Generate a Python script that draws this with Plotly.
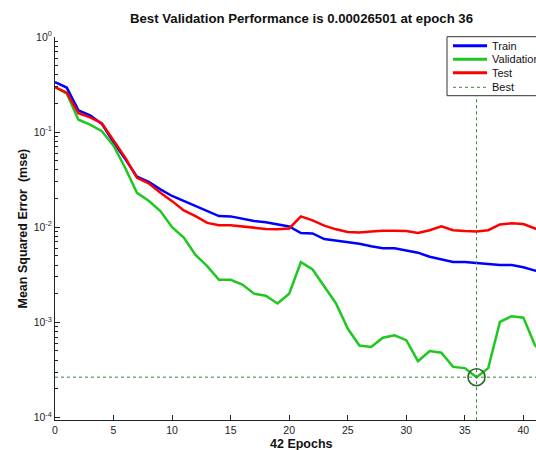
import plotly.graph_objects as go

# ---------------- data ----------------
epochs = list(range(0, 43))
train = [0.336, 0.294, 0.169, 0.150, 0.122, 0.078, 0.052, 0.034, 0.030, 0.025,
         0.0213, 0.0188, 0.0167, 0.0148, 0.0131, 0.0130, 0.0122, 0.0116, 0.0113, 0.0108,
         0.0102, 0.0087, 0.0086, 0.0075, 0.0072, 0.0069, 0.0067, 0.0063, 0.0060, 0.0060,
         0.0057, 0.0054, 0.0049, 0.0046, 0.0043, 0.0043, 0.0042, 0.0041, 0.0040, 0.0040,
         0.0038, 0.0035, 0.0033]
validation = [0.298, 0.254, 0.135, 0.120, 0.102, 0.072, 0.042, 0.023, 0.019, 0.0148,
              0.0100, 0.0078, 0.0051, 0.0039, 0.0028, 0.0028, 0.0025, 0.0020, 0.0019, 0.00158,
              0.0020, 0.0043, 0.0036, 0.0024, 0.00158, 0.00086, 0.00057, 0.00055, 0.00069, 0.00073,
              0.00065, 0.00039, 0.00050, 0.00048, 0.00034, 0.00033, 0.00026501, 0.00033, 0.00101, 0.00116,
              0.00112, 0.00057, 0.00045]
test = [0.298, 0.260, 0.158, 0.143, 0.124, 0.081, 0.054, 0.033, 0.029, 0.023,
        0.0188, 0.0150, 0.0131, 0.0111, 0.0105, 0.0105, 0.0102, 0.0098, 0.0096, 0.0095,
        0.0097, 0.0130, 0.0118, 0.0104, 0.0095, 0.0089, 0.0088, 0.0090, 0.0092, 0.0092,
        0.0091, 0.0087, 0.0093, 0.0102, 0.0093, 0.0091, 0.0090, 0.0093, 0.0107, 0.0110,
        0.0108, 0.0097, 0.0092]
best_epoch = 36
best_perf = 0.00026501
x_ticks = [0, 5, 10, 15, 20, 25, 30, 35, 40]
y_ticks = [1e-4, 1e-3, 1e-2, 1e-1, 1]
y_tick_text = ["10<sup>-4</sup>", "10<sup>-3</sup>", "10<sup>-2</sup>", "10<sup>-1</sup>", "10<sup>0</sup>"]
y_minor = [m * 10.0 ** d for d in range(-4, 0) for m in range(2, 10)]
legend_names = ["Train", "Validation", "Test", "Best"]

# ---------------- style ----------------
FONT = "Arial, 'Liberation Sans', sans-serif"
C_TRAIN = "#0000ff"
C_VAL = "#1ec81e"
C_TEST = "#ff0000"
C_BEST = "#3f7f3f"
C_CIRCLE = "#2a6a2a"

# the page body margin is removed by the post script, so screen px == figure px
SCR_L, SCR_T, SCR_B = 55, 37, 420        # plot area edges on screen
W, H = 536, 450
L, T, R = SCR_L, SCR_T, 0
B = H - SCR_B
PW, PH = W - L - R, H - T - B


def px(x):
    return (x - SCR_L) / PW


def py(y):
    return (SCR_B - y) / PH


fig = go.Figure()
fig.add_trace(go.Scatter(x=epochs, y=train, mode="lines",
                         line=dict(color=C_TRAIN, width=2.5), showlegend=False))
fig.add_trace(go.Scatter(x=epochs, y=validation, mode="lines",
                         line=dict(color=C_VAL, width=2.5), showlegend=False))
fig.add_trace(go.Scatter(x=epochs, y=test, mode="lines",
                         line=dict(color=C_TEST, width=2.5), showlegend=False))
# best markers
fig.add_trace(go.Scatter(x=[best_epoch, best_epoch], y=[10 ** -4.03, 1.0], mode="lines",
                         line=dict(color=C_BEST, width=1, dash="dot"), showlegend=False))
fig.add_trace(go.Scatter(x=[0, epochs[-1]], y=[best_perf, best_perf], mode="lines",
                         line=dict(color=C_BEST, width=1, dash="dot"), showlegend=False))
fig.add_trace(go.Scatter(x=[best_epoch], y=[best_perf], mode="markers",
                         marker=dict(symbol="circle-open", size=17,
                                     line=dict(color=C_CIRCLE, width=1.6), color=C_CIRCLE),
                         showlegend=False, cliponaxis=False))

# ---------------- legend (drawn manually; it is cut by the right edge) ----------------
shapes = [dict(type="rect", xref="paper", yref="paper",
               x0=px(447), x1=px(600), y0=py(95.7), y1=py(36.7),
               line=dict(color="#333333", width=1), fillcolor="white", layer="above")]
entry_y = [45.7, 59.3, 72.7, 87.3]
entry_style = [(C_TRAIN, 3, "solid"), (C_VAL, 3, "solid"), (C_TEST, 3, "solid"), (C_BEST, 1, "dot")]
annotations = []
for name, yy, (c, w, d) in zip(legend_names, entry_y, entry_style):
    shapes.append(dict(type="line", xref="paper", yref="paper",
                       x0=px(453), x1=px(487), y0=py(yy), y1=py(yy),
                       line=dict(color=c, width=w, dash=d), layer="above"))
    annotations.append(dict(text=name, xref="paper", yref="paper", x=px(490), y=py(yy),
                            xanchor="left", yanchor="middle", showarrow=False,
                            font=dict(family=FONT, size=11, color="#111111")))

# titles
annotations.append(dict(text="<b>Best Validation Performance is 0.00026501 at epoch 36</b>",
                        xref="paper", yref="paper", x=px(301), y=py(18),
                        xanchor="center", yanchor="middle", showarrow=False,
                        font=dict(family=FONT, size=13.2, color="#111111")))
annotations.append(dict(text="<b>42 Epochs</b>", xref="paper", yref="paper",
                        x=px(301), y=py(443.5), xanchor="center", yanchor="middle",
                        showarrow=False, font=dict(family=FONT, size=12.5, color="#111111")))
annotations.append(dict(text="<b>Mean Squared Error  (mse)</b>", xref="paper", yref="paper",
                        x=px(22), y=py(228.5), xanchor="center", yanchor="middle",
                        textangle=-90, showarrow=False,
                        font=dict(family=FONT, size=12.5, color="#111111")))

fig.update_layout(
    width=W, height=H, autosize=False,
    margin=dict(l=L, r=R, t=T, b=B, pad=0),
    paper_bgcolor="white", plot_bgcolor="white",
    showlegend=False,
    shapes=shapes, annotations=annotations,
    font=dict(family=FONT, size=10, color="#222222"),
)
fig.update_xaxes(range=[0, 41.08], showline=True, linecolor="#222222", linewidth=1,
                 ticks="inside", ticklen=5, tickcolor="#222222", tickvals=x_ticks,
                 showgrid=False, zeroline=False, mirror=False,
                 tickfont=dict(family=FONT, size=10.5, color="#222222"))
fig.update_yaxes(type="log", range=[-4.027, 0], showline=True, linecolor="#222222", linewidth=1,
                 ticks="inside", ticklen=5, tickcolor="#222222",
                 tickvals=y_ticks, ticktext=y_tick_text,
                 minor=dict(ticks="inside", ticklen=3, tickcolor="#222222",
                            tickvals=y_minor, showgrid=False),
                 showgrid=False, zeroline=False, mirror=False,
                 tickfont=dict(family=FONT, size=10.5, color="#222222"))

fig.write_html(
    "out.html",
    config={"displayModeBar": False},
    post_script="document.body.style.margin='0';document.body.style.overflow='hidden';",
)
